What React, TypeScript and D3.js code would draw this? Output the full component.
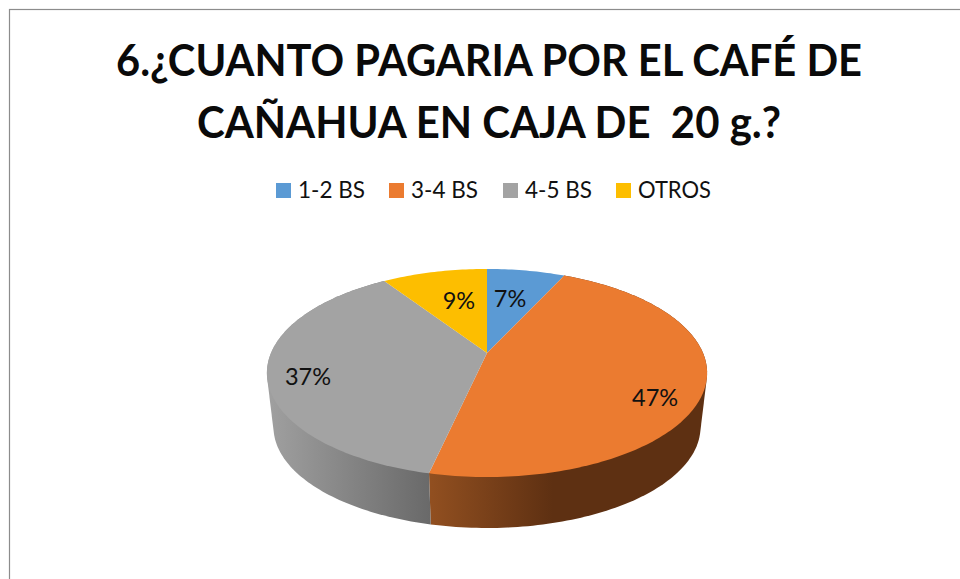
import React from "react";
import * as d3 from "d3";

const categories = ["1-2 BS", "3-4 BS", "4-5 BS", "OTROS"];
const shares = [0.069, 0.466, 0.372, 0.093];
const colors = ["#5B9AD4", "#EB7B30", "#A3A3A3", "#FDBE00"];
const titleLines = ["6.¿CUANTO PAGARIA POR EL CAFÉ DE", "CAÑAHUA EN CAJA DE  20 g.?"];

// layout
const W = 960, H = 579;
const CX = 487, APEX_Y = 353, R = 216, B = 100.2, K = 0.192;
const BOTTOM_SCALE = 0.97, BOTTOM_APEX_Y = 407.7;
const labelRadius = [0.6, 0.8, 0.85, 0.55];
const labelNudge: [number, number][] = [[-2, -2], [-4, 17], [7, 7], [3, -5]];
const legendX = [276, 389, 503, 616];
const legendTextWidth = [67, 67, 67, 73];

const project = (t: number, r = 1, bottom = false) => {
  const u = Math.sin(t) * r, v = -Math.cos(t) * r;
  const s = 1 / (1 - K * v);
  const f = bottom ? BOTTOM_SCALE : 1;
  return [CX + R * f * u * s, (bottom ? BOTTOM_APEX_Y : APEX_Y) + B * f * v * s] as [number, number];
};
const line = d3.line();
const arcAngles = (a: number, b: number) => {
  const n = Math.max(2, Math.ceil((b - a) / 0.02));
  return d3.range(n + 1).map((i) => a + ((b - a) * i) / n);
};

export default function App() {
  const arcs = d3.pie<number>().sort(null)(shares);
  const pct = d3.format(".0%");
  const font = "Lato, Carlito, sans-serif";
  const front = (a: any) => a.endAngle > Math.PI / 2 && a.startAngle < (3 * Math.PI) / 2;
  return (
    <svg width={W} height={H} viewBox={`0 0 ${W} ${H}`} style={{ position: "absolute", left: 0, top: 0, background: "#fff" }}>
      <defs>
        <linearGradient id="side-1" gradientUnits="userSpaceOnUse" x1="431" x2="600" y1="0" y2="0">
          <stop offset="0" stopColor="#914F20" />
          <stop offset="0.72" stopColor="#5E3012" />
          <stop offset="1" stopColor="#5E3012" />
        </linearGradient>
        <linearGradient id="side-2" gradientUnits="userSpaceOnUse" x1="268" x2="431" y1="0" y2="0">
          <stop offset="0" stopColor="#A0A0A0" />
          <stop offset="1" stopColor="#696969" />
        </linearGradient>
      </defs>
      <rect x={9.5} y={9.5} width={W + 20} height={H + 20} fill="#fff" stroke="#8C8C8C" strokeWidth={1.2} />
      <g fontFamily={font} fontWeight={700} fontSize={44} fill="#0a0a0a" textAnchor="middle">
        <text x={489} y={76} textLength={746} lengthAdjust="spacingAndGlyphs" xmlSpace="preserve">{titleLines[0]}</text>
        <text x={489} y={138} textLength={584} lengthAdjust="spacingAndGlyphs" xmlSpace="preserve">{titleLines[1]}</text>
      </g>
      <g fontFamily={font} fontSize={23} fill="#111">
        {categories.map((c, i) => (
          <g key={c}>
            <rect x={legendX[i]} y={183} width={15} height={15} fill={colors[i]} />
            <text x={legendX[i] + 22} y={198} textLength={legendTextWidth[i]} lengthAdjust="spacingAndGlyphs">{c}</text>
          </g>
        ))}
      </g>
      {arcs.map((a, i) => {
        if (!front(a)) return null;
        const ts = arcAngles(a.startAngle, a.endAngle);
        const hull = d3.polygonHull([...ts.map((t) => project(t)), ...ts.map((t) => project(t, 1, true))]);
        return <path key={i} d={line(hull as [number, number][]) + "Z"} fill={`url(#side-${i})`} />;
      })}
      {arcs.map((a, i) => {
        const pts = [project(0, 0), ...arcAngles(a.startAngle, a.endAngle).map((t) => project(t))];
        return <path key={i} d={line(pts) + "Z"} fill={colors[i]} />;
      })}
      <g fontFamily={font} fontSize={23.5} fill="#111" textAnchor="middle" dominantBaseline="central">
        {arcs.map((a, i) => {
          const [x, y] = project((a.startAngle + a.endAngle) / 2, labelRadius[i]);
          return <text key={i} x={x + labelNudge[i][0]} y={y + labelNudge[i][1]}>{pct(shares[i])}</text>;
        })}
      </g>
    </svg>
  );
}
